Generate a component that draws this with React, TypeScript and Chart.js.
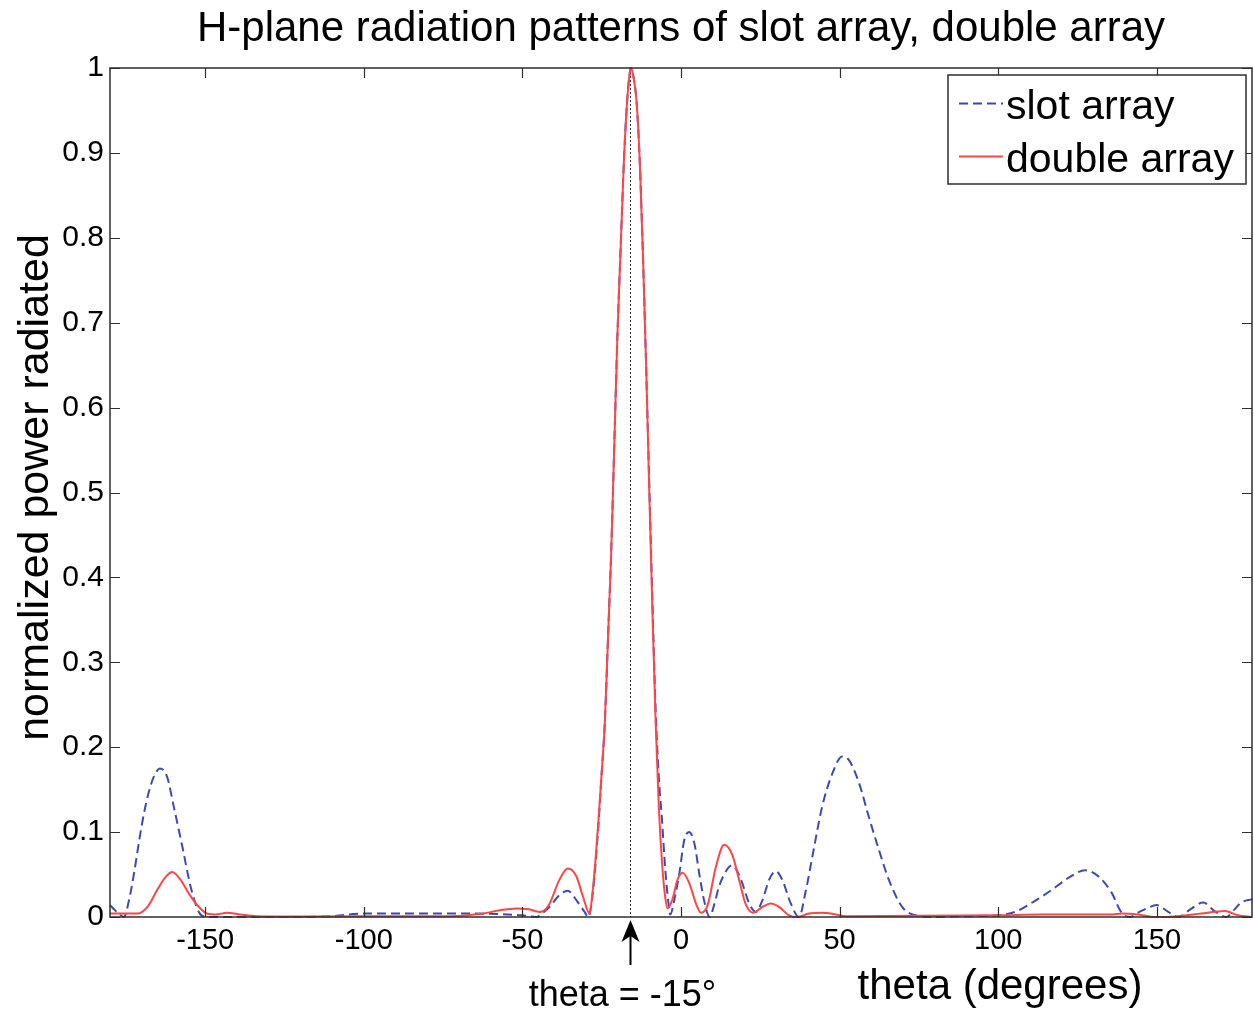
import { useEffect, useRef } from "react";
import { Chart, registerables } from "chart.js";

Chart.register(...registerables);

const chartTitle = "H-plane radiation patterns of slot array, double array";
const xAxisLabel = "theta (degrees)";
const yAxisLabel = "normalized power radiated";
const markerLabel = "theta = -15°";
const markerTheta = -16;
const xTickValues = [-150, -100, -50, 0, 50, 100, 150];
const yTickValues = [0, 0.1, 0.2, 0.3, 0.4, 0.5, 0.6, 0.7, 0.8, 0.9, 1];
const seriesNames = ["slot array", "double array"];

const slotTheta = [
  -180, -179, -177, -175.6, -174, -172.4, -170.8, -169.3, -167.7, -166.2, -164.3, -162, -159.9,
  -157.2, -154.6, -152, -149.4, -140, -120, -110, -100, -80, -65, -55, -50, -45.6, -43.5, -41.4,
  -38.3, -35.7, -33, -30.4, -29.2, -28, -27, -26, -25, -24, -23, -22, -21, -20, -19, -18, -17,
  -16, -15.8, -15, -14, -13, -12, -11, -10, -9, -8, -7, -6, -5, -4, -3.4, -2, -0.5, 1, 2.5, 4.2,
  5.8, 7.3, 9, 10.5, 12, 14.7, 16.2, 18.9, 21.5, 23.6, 25.7, 27.8, 29.9, 31.9, 34.6, 37.2, 39.3,
  41.4, 44.5, 47.7, 50.8, 52.9, 56.1, 59.2, 62.4, 65.5, 69.7, 73.9, 80, 90, 100, 105.3, 111.6,
  116.9, 122.1, 127.4, 131.5, 135.7, 138.9, 141.5, 144.5, 147.3, 149.9, 153.6, 156.7, 160.9,
  164.6, 168.2, 171.9, 174.5, 176.6, 180,
];
const slotPower = [
  0.014, 0.01, 0.003, 0.0, 0.02, 0.052, 0.09, 0.122, 0.148, 0.165, 0.175, 0.165, 0.13,
  0.083, 0.036, 0.006, 0.0, 0.0, 0.0, 0.001, 0.004, 0.004, 0.004, 0.003, 0.002, 0.0, 0.005, 0.012,
  0.026, 0.031, 0.02, 0.006, 0.0, 0.022, 0.06, 0.11, 0.17, 0.23, 0.33, 0.43, 0.56, 0.69, 0.79, 0.89, 0.96,
  0.998, 1.0, 0.99, 0.96, 0.89, 0.78, 0.65, 0.51, 0.37, 0.245, 0.165, 0.115, 0.058, 0.018, 0.003, 0.022, 0.052, 0.09, 0.1, 0.087,
  0.05, 0.019, 0.0, 0.015, 0.036, 0.057, 0.061, 0.044, 0.016, 0.006, 0.02, 0.044, 0.054, 0.044, 0.016, 0.0, 0.03,
  0.071, 0.13, 0.169, 0.189, 0.185, 0.158, 0.118, 0.079, 0.044, 0.012, 0.002, 0.0, 0.001, 0.002, 0.006, 0.019,
  0.032, 0.046, 0.055, 0.048, 0.029, 0.005, 0.0, 0.006, 0.011, 0.014, 0.006, 0.0, 0.01,
  0.017, 0.007, 0.0, 0.009, 0.017, 0.021,
];

const doubleTheta = [
  -180, -171.4, -168.2, -165.1, -162.5, -160.4, -157.8, -155.2, -152.5, -149.4, -146.8, -143.1,
  -138.9, -133.7, -120, -80, -72.9, -62.4, -57.1, -52, -48, -44.6, -43, -41.4, -38.3, -35.7, -33,
  -30.9, -28.8, -28, -27, -26, -25, -24, -23, -22, -21, -20, -19, -18, -17, -16, -15.8, -15, -14,
  -13, -12, -11, -10, -9, -8, -7, -6, -5, -4.2, -2.6, -1.1, 0.5, 2.6, 4.7, 6.3, 8.4, 11, 13.6,
  16.2, 18.3, 20.3, 22.7, 25.7, 28.3, 30.9, 34, 36.7, 40.3, 44.5, 48.7, 52, 100, 113.7, 136,
  138.9, 144.1, 149.4, 156.7, 164, 171.4, 175.6, 180,
];
const doublePower = [
  0.004, 0.004, 0.012, 0.032, 0.047, 0.053, 0.044, 0.028, 0.014, 0.004, 0.003, 0.005,
  0.003, 0.001, 0.0005, 0.001, 0.001, 0.004, 0.008, 0.01, 0.009, 0.006, 0.008, 0.016, 0.044, 0.057, 0.048,
  0.024, 0.004, 0.025, 0.065, 0.115, 0.17, 0.23, 0.33, 0.43, 0.56, 0.69, 0.79, 0.89, 0.96, 0.998, 1.0, 0.99, 0.96,
  0.89, 0.78, 0.65, 0.5, 0.36, 0.23, 0.13, 0.065, 0.024, 0.01, 0.022, 0.044, 0.052, 0.04, 0.016, 0.005, 0.014, 0.059, 0.085,
  0.073, 0.044, 0.016, 0.005, 0.012, 0.016, 0.012, 0.002, 0.0, 0.004, 0.005, 0.003, 0.001, 0.002, 0.003, 0.003,
  0.004, 0.003, 0.0, 0.001, 0.004, 0.007, 0.002, 0.0,
];

const FONT = '"Liberation Sans", Arial, Helvetica, sans-serif';
const BOX_COLOR = "#2e2e2e";

const decorPlugin = {
  id: "decor",
  beforeDraw(chart: any) {
    const ctx = chart.ctx;
    ctx.save();
    ctx.fillStyle = "#fff";
    ctx.fillRect(0, 0, chart.width, chart.height);
    ctx.restore();
  },
  beforeDatasetsDraw(chart: any) {
    const { ctx, chartArea, scales } = chart;
    const mx = scales.x.getPixelForValue(markerTheta);
    ctx.save();
    ctx.strokeStyle = "#333";
    ctx.lineWidth = 1;
    ctx.setLineDash([2, 2]);
    ctx.beginPath();
    ctx.moveTo(Math.round(mx) + 0.5, chartArea.top);
    ctx.lineTo(Math.round(mx) + 0.5, chartArea.bottom);
    ctx.stroke();
    ctx.restore();
  },
  afterDraw(chart: any) {
    const { ctx, chartArea, scales } = chart;
    const { left, right, top, bottom } = chartArea;
    ctx.save();
    // axes box
    ctx.strokeStyle = BOX_COLOR;
    ctx.lineWidth = 1.5;
    ctx.setLineDash([]);
    ctx.strokeRect(left, top, right - left, bottom - top);
    // inward ticks
    ctx.lineWidth = 1.2;
    ctx.beginPath();
    scales.x.ticks.forEach((t: any) => {
      const px = Math.round(scales.x.getPixelForValue(t.value)) + 0.5;
      ctx.moveTo(px, bottom);
      ctx.lineTo(px, bottom - 10);
      ctx.moveTo(px, top);
      ctx.lineTo(px, top + 10);
    });
    scales.y.ticks.forEach((t: any) => {
      const py = Math.round(scales.y.getPixelForValue(t.value)) + 0.5;
      ctx.moveTo(left, py);
      ctx.lineTo(left + 10, py);
      ctx.moveTo(right, py);
      ctx.lineTo(right - 10, py);
    });
    ctx.stroke();

    ctx.fillStyle = "#000";
    ctx.textAlign = "center";
    ctx.textBaseline = "alphabetic";

    // title, centred over the plot area
    ctx.font = `42px ${FONT}`;
    ctx.fillText(chartTitle, (left + right) / 2, 41);

    // axis labels
    ctx.font = `43px ${FONT}`;
    ctx.save();
    ctx.translate(48, (top + bottom) / 2 - 5);
    ctx.rotate(-Math.PI / 2);
    ctx.fillText(yAxisLabel, 0, 0);
    ctx.restore();

    ctx.font = `42px ${FONT}`;
    ctx.fillText(xAxisLabel, 1000, 999);

    // marker annotation
    const mx = Math.round(scales.x.getPixelForValue(markerTheta)) + 0.5;
    ctx.font = `36px ${FONT}`;
    ctx.fillText(markerLabel, mx - 8, 1006);
    ctx.strokeStyle = "#000";
    ctx.lineWidth = 2;
    ctx.beginPath();
    ctx.moveTo(mx, 934);
    ctx.lineTo(mx, 965);
    ctx.stroke();
    ctx.beginPath();
    ctx.moveTo(mx, bottom + 3);
    ctx.lineTo(mx + 9, bottom + 25);
    ctx.lineTo(mx, bottom + 19);
    ctx.lineTo(mx - 9, bottom + 25);
    ctx.closePath();
    ctx.fill();

    // legend
    const lw = 298;
    const lh = 109;
    const lx = right - 6 - lw;
    const ly = top + 7;
    ctx.fillStyle = "#fff";
    ctx.fillRect(lx, ly, lw, lh);
    ctx.strokeStyle = BOX_COLOR;
    ctx.lineWidth = 1.5;
    ctx.strokeRect(lx, ly, lw, lh);
    chart.data.datasets.forEach((ds: any, i: number) => {
      const rowY = ly + 28 + i * 53;
      ctx.strokeStyle = ds.borderColor;
      ctx.lineWidth = ds.borderWidth;
      ctx.setLineDash(ds.borderDash || []);
      ctx.beginPath();
      ctx.moveTo(lx + 11, rowY + 0.5);
      ctx.lineTo(lx + 55, rowY + 0.5);
      ctx.stroke();
      ctx.setLineDash([]);
      ctx.fillStyle = "#000";
      ctx.font = `41px ${FONT}`;
      ctx.textAlign = "left";
      ctx.fillText(ds.label, lx + 58, rowY + 16);
    });
    ctx.restore();
  },
};

export default function App() {
  const ref = useRef<HTMLCanvasElement>(null);
  useEffect(() => {
    const canvas = ref.current;
    if (!canvas) return;
    const chart = new Chart(canvas, {
      type: "line",
      data: {
        datasets: [
          {
            label: seriesNames[0],
            data: slotTheta.map((t, i) => ({ x: t, y: slotPower[i] })),
            borderColor: "#3d49b3",
            borderWidth: 2,
            borderDash: [9, 5],
            pointRadius: 0,
            fill: false,
            cubicInterpolationMode: "monotone",
            clip: 4,
            order: 2,
          },
          {
            label: seriesNames[1],
            data: doubleTheta.map((t, i) => ({ x: t, y: doublePower[i] })),
            borderColor: "#ff4545",
            borderWidth: 2,
            pointRadius: 0,
            fill: false,
            cubicInterpolationMode: "monotone",
            clip: 4,
            order: 1,
          },
        ],
      },
      options: {
        responsive: false,
        animation: false,
        maintainAspectRatio: false,
        layout: { padding: { top: 68, right: 2, left: 0, bottom: 0 } },
        plugins: {
          legend: { display: false },
          tooltip: { enabled: false },
          title: { display: false },
        },
        scales: {
          x: {
            type: "linear",
            min: -180,
            max: 180,
            grid: { display: false, drawTicks: false },
            border: { display: false },
            afterBuildTicks: (axis: any) => {
              axis.ticks = xTickValues.map((v) => ({ value: v }));
            },
            afterFit: (axis: any) => {
              axis.height = 95;
            },
            ticks: {
              color: "#000",
              font: { family: FONT, size: 29 },
              padding: 7,
              maxRotation: 0,
              autoSkip: false,
              callback: (v: any) => String(v),
            },
          },
          y: {
            type: "linear",
            min: 0,
            max: 1,
            grid: { display: false, drawTicks: false },
            border: { display: false },
            afterBuildTicks: (axis: any) => {
              axis.ticks = yTickValues.map((v) => ({ value: v }));
            },
            afterFit: (axis: any) => {
              axis.width = 110;
            },
            ticks: {
              color: "#000",
              font: { family: FONT, size: 30 },
              padding: 6,
              autoSkip: false,
              callback: (v: any) => String(Math.round(Number(v) * 10) / 10),
            },
          },
        },
      },
      plugins: [decorPlugin],
    } as any);
    return () => chart.destroy();
  }, []);
  return (
    <div style={{ position: "fixed", left: 0, top: 0, width: 1254, height: 1012, background: "#fff" }}>
      <canvas ref={ref} width={1254} height={1012} style={{ display: "block" }} />
    </div>
  );
}
